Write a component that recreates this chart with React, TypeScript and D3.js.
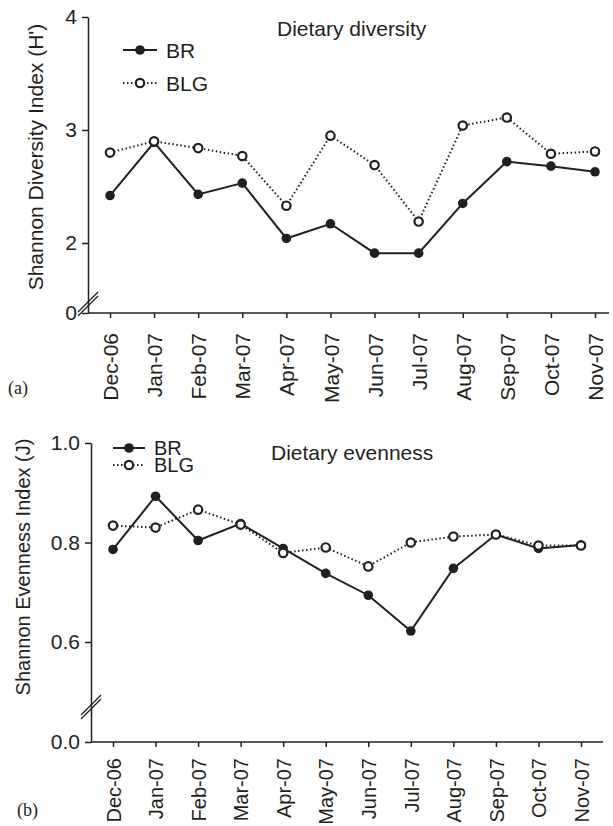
import { useEffect, useRef } from "react";
import * as d3 from "d3";

// months on the x axis
const months = [
  "Dec-06", "Jan-07", "Feb-07", "Mar-07", "Apr-07", "May-07",
  "Jun-07", "Jul-07", "Aug-07", "Sep-07", "Oct-07", "Nov-07",
];

// (a) Shannon diversity index H'
const diversityBR = [2.42, 2.89, 2.43, 2.53, 2.04, 2.17, 1.91, 1.91, 2.35, 2.72, 2.68, 2.63];
const diversityBLG = [2.8, 2.9, 2.84, 2.77, 2.33, 2.95, 2.69, 2.19, 3.04, 3.11, 2.79, 2.81];
const diversityTicks = [0, 2, 3, 4];

// (b) Shannon evenness index J
const evennessBR = [0.786, 0.893, 0.804, 0.838, 0.788, 0.738, 0.694, 0.622, 0.748, 0.816, 0.788, 0.795];
const evennessBLG = [0.834, 0.83, 0.866, 0.836, 0.779, 0.79, 0.752, 0.8, 0.812, 0.816, 0.794, 0.794];
const evennessTicks = [0, 0.6, 0.8, 1.0];

const INK = "#231f20";
const FONT = "'Liberation Sans', Arial, Helvetica, sans-serif";

function drawPanel(svg, p) {
  const g = svg.append("g");

  // broken y scale: 0 sits on the x axis, then jumps to the visible range
  const y = d3.scaleLinear().domain(p.yDomain).range(p.yRange);
  const x = d3.scalePoint().domain(months).range(p.xRange);

  // x axis line + ticks
  g.append("line")
    .attr("x1", p.axisX)
    .attr("x2", p.axisEnd)
    .attr("y1", p.axisY)
    .attr("y2", p.axisY)
    .attr("stroke", INK)
    .attr("stroke-width", 1.5);

  const xAxis = g
    .append("g")
    .attr("transform", "translate(0," + p.axisY + ")")
    .call(d3.axisBottom(x).tickSize(5).tickSizeOuter(0));
  xAxis.select(".domain").remove();
  xAxis.selectAll(".tick line").attr("stroke", INK).attr("stroke-width", 1.5);
  xAxis
    .selectAll(".tick text")
    .attr("transform", "rotate(-90)")
    .attr("text-anchor", "end")
    .attr("x", -p.xLabelGap)
    .attr("y", 0)
    .attr("dy", "0.36em")
    .attr("fill", INK)
    .attr("font-size", p.xFont)
    .attr("font-family", FONT);

  // y axis
  const yAxis = g
    .append("g")
    .attr("transform", "translate(" + p.axisX + ",0)")
    .call(
      d3
        .axisLeft(y)
        .tickValues(p.ticks)
        .tickFormat(p.format)
        .tickSize(6)
        .tickSizeOuter(0)
    );
  yAxis.select(".domain").attr("stroke", INK).attr("stroke-width", 1.5);
  yAxis.selectAll(".tick line").attr("stroke", INK).attr("stroke-width", 1.5);
  yAxis
    .selectAll(".tick text")
    .attr("fill", INK)
    .attr("font-size", 21)
    .attr("font-family", FONT)
    .attr("x", -11);

  // axis break (double slash)
  [0, 4].forEach((off) => {
    g.append("line")
      .attr("x1", p.axisX - 10)
      .attr("y1", p.breakY + 10 + off)
      .attr("x2", p.axisX + 10)
      .attr("y2", p.breakY - 10 + off)
      .attr("stroke", INK)
      .attr("stroke-width", 1.2);
  });

  // y label
  g.append("text")
    .attr("transform", "rotate(-90)")
    .attr("x", -p.yLabelY)
    .attr("y", p.yLabelX)
    .attr("text-anchor", "middle")
    .attr("fill", INK)
    .attr("font-size", p.yLabelSize)
    .attr("font-family", FONT)
    .text(p.yLabel);

  // title
  g.append("text")
    .attr("x", p.titleX)
    .attr("y", p.titleY)
    .attr("fill", INK)
    .attr("font-size", 21)
    .attr("font-family", FONT)
    .text(p.title);

  // panel letter
  g.append("text")
    .attr("x", p.letterX)
    .attr("y", p.letterY)
    .attr("fill", INK)
    .attr("font-size", 18)
    .attr("font-family", "'Liberation Serif', 'Times New Roman', serif")
    .text(p.letter);

  const line = d3
    .line()
    .x((d, i) => x(months[i]))
    .y((d) => y(d));

  // BLG dotted, drawn first so BR sits over it where they overlap
  g.append("path")
    .datum(p.blg)
    .attr("d", line)
    .attr("fill", "none")
    .attr("stroke", INK)
    .attr("stroke-width", 2)
    .attr("stroke-dasharray", "1.5,2.5");

  g.append("path")
    .datum(p.br)
    .attr("d", line)
    .attr("fill", "none")
    .attr("stroke", INK)
    .attr("stroke-width", 2);

  g.selectAll(".brDot")
    .data(p.br)
    .join("circle")
    .attr("class", "brDot")
    .attr("cx", (d, i) => x(months[i]))
    .attr("cy", (d) => y(d))
    .attr("r", 4.8)
    .attr("fill", INK);

  g.selectAll(".blgDot")
    .data(p.blg)
    .join("circle")
    .attr("class", "blgDot")
    .attr("cx", (d, i) => x(months[i]))
    .attr("cy", (d) => y(d))
    .attr("r", 4.2)
    .attr("fill", "white")
    .attr("stroke", INK)
    .attr("stroke-width", 2.2);

  // legend
  const legend = [
    { key: "BR", solid: true, y: p.legendY[0] },
    { key: "BLG", solid: false, y: p.legendY[1] },
  ];
  legend.forEach((l) => {
    g.append("line")
      .attr("x1", p.legendX)
      .attr("x2", p.legendX + p.legendW)
      .attr("y1", l.y)
      .attr("y2", l.y)
      .attr("stroke", INK)
      .attr("stroke-width", 2)
      .attr("stroke-dasharray", l.solid ? null : "1.5,2.5");
    const cx = p.legendX + p.legendW / 2;
    if (l.solid) {
      g.append("circle").attr("cx", cx).attr("cy", l.y).attr("r", 4.8).attr("fill", INK);
    } else {
      g.append("circle")
        .attr("cx", cx)
        .attr("cy", l.y)
        .attr("r", 4.2)
        .attr("fill", "white")
        .attr("stroke", INK)
        .attr("stroke-width", 2.2);
    }
    g.append("text")
      .attr("x", p.legendX + p.legendW + 9)
      .attr("y", l.y)
      .attr("dy", "0.36em")
      .attr("fill", INK)
      .attr("font-size", p.legendFont)
      .attr("font-family", FONT)
      .text(l.key);
  });
}

export default function App() {
  const svgRef = useRef(null);

  useEffect(() => {
    const svg = d3.select(svgRef.current);
    svg.selectAll("*").remove();

    drawPanel(svg, {
      br: diversityBR,
      blg: diversityBLG,
      ticks: diversityTicks,
      format: d3.format("d"),
      // linear 1.5..4, then the break down to 0 on the x axis
      yDomain: [0, 1.5, 4],
      yRange: [313, 299.5, 17],
      xRange: [110, 595],
      xLabelGap: 20,
      xFont: 21,
      axisX: 88,
      axisY: 313,
      axisEnd: 609,
      breakY: 302,
      yLabel: "Shannon Diversity Index (H')",
      yLabelX: 43,
      yLabelY: 157,
      yLabelSize: 21,
      title: "Dietary diversity",
      titleX: 277,
      titleY: 36,
      letter: "(a)",
      letterX: 8,
      letterY: 394,
      legendX: 123,
      legendW: 34,
      legendY: [50, 83],
      legendFont: 21,
    });

    drawPanel(svg, {
      br: evennessBR,
      blg: evennessBLG,
      ticks: evennessTicks,
      format: d3.format(".1f"),
      yDomain: [0, 0.6, 1.0],
      yRange: [742, 642, 443],
      xRange: [113, 581],
      xLabelGap: 16,
      xFont: 20,
      axisX: 91,
      axisY: 742,
      axisEnd: 603,
      breakY: 705,
      yLabel: "Shannon Evenness Index (J)",
      yLabelX: 30,
      yLabelY: 567,
      yLabelSize: 20,
      title: "Dietary evenness",
      titleX: 271,
      titleY: 460,
      letter: "(b)",
      letterX: 17,
      letterY: 816,
      legendX: 113,
      legendW: 32,
      legendY: [448, 465],
      legendFont: 20,
    });
  }, []);

  return (
    <div style={{ position: "absolute", left: 0, top: 0 }}>
      <svg ref={svgRef} width={613} height={826} style={{ display: "block", background: "white" }}></svg>
    </div>
  );
}
